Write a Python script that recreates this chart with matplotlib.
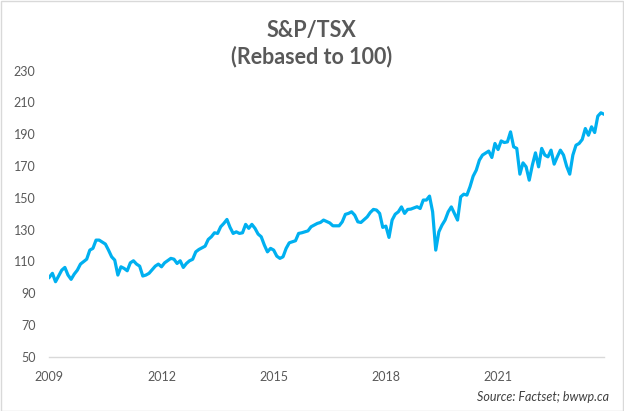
import matplotlib
matplotlib.use('Agg')
import matplotlib.pyplot as plt
from matplotlib.patches import Rectangle

# Months since Jan 2009 and rebased index value
month_idx = [0, 1, 2, 3, 4, 5, 6, 7, 8, 9, 10, 12, 13, 14, 15, 16, 18, 19, 20, 21,
             22, 23, 24, 25, 26, 27, 28, 29, 30, 31, 32, 34, 35, 36, 37, 39, 40, 41, 42, 43,
             44, 45, 46, 47, 48, 50, 51, 52, 53, 54, 55, 56, 57, 58, 59, 60, 61, 62, 63, 64,
             65, 66, 67, 68, 69, 70, 71, 72, 73, 74, 75, 76, 77, 79, 80, 81, 83, 84, 86, 87,
             88, 90, 91, 93, 94, 95, 96, 97, 98, 99, 100, 102, 103, 104, 105, 106, 107, 108, 109, 110,
             111, 112, 113, 114, 115, 116, 118, 119, 120, 121, 122, 123, 124, 125, 126, 127, 128, 129, 130, 131,
             132, 133, 134, 135, 136, 137, 138, 139, 141, 142, 143, 144, 145, 146, 147, 148, 149, 150, 151, 152,
             153, 154, 155, 156, 157, 158, 159, 160, 161, 162, 163, 164, 165, 166, 167, 168, 169, 170, 171, 172,
             173, 174, 175, 176, 177, 178]
tsx = [100, 102.5, 97.2, 100.8, 104.5, 106.2, 101.4, 98.7, 102, 104.5, 108.3, 111.4, 117.1, 118.2, 123.4, 123.4, 120.9, 117.1, 112.9, 110.8,
       101.4, 106.6, 105.6, 104.1, 109.1, 110.4, 108.3, 107, 100.8, 101.4, 102.5, 107, 108.3, 106.6, 109.1, 111.9, 111.4, 108.7, 110.4, 106.2,
       108.7, 110.4, 111.3, 116, 117.5, 119.6, 123.8, 125.5, 128, 127.6, 131.8, 133.9, 136.4, 131.4, 127.6, 128.6, 127.6, 128, 133.3, 130.8,
       133.3, 130.8, 127.2, 125.5, 120.3, 116, 118.2, 117.1, 113.3, 111.9, 112.9, 118.2, 121.7, 123, 127.6, 128, 129.2, 131.8, 133.9, 134.5,
       136, 134.2, 132.4, 132.4, 134.9, 139.6, 140.2, 141.2, 139.1, 134.9, 134.5, 138, 140.8, 142.7, 142.3, 140.2, 131.4, 132.2, 125.1, 136,
       139.7, 141.2, 144.3, 140.2, 142.7, 142.9, 144.4, 143.3, 148.6, 148.6, 151.1, 141.2, 117.1, 128.6, 132.8, 136, 141.2, 144.3, 140.2, 136,
       150.6, 152.3, 151.7, 157, 163.6, 167.4, 173.7, 176.9, 179.4, 175.4, 184.2, 180.4, 185.8, 184.8, 185.2, 191.5, 182.1, 181.1, 164.9, 172,
       169.5, 161.1, 170.6, 178.3, 169.5, 181.1, 176.9, 175.8, 180, 171.2, 175.8, 180, 176.9, 169.9, 164.9, 176.9, 183.1, 184.2, 186.7, 193.6,
       189.4, 194.7, 191.1, 201.4, 203.5, 202.6]

year_ticks = [0, 36, 72, 108, 144]
year_labels = ['2009', '2012', '2015', '2018', '2021']
y_ticks = list(range(50, 231, 20))

plt.rcParams['font.family'] = ['Lato', 'DejaVu Sans']
grey = '#595959'

fig = plt.figure(figsize=(6.24, 4.11), dpi=100)
ax = fig.add_axes([0.079, 0.132, 0.889, 0.696])

ax.plot(month_idx, tsx, color='#00B0F0', linewidth=2.3, solid_joinstyle='round')

ax.set_xlim(0, 178)
ax.set_ylim(50, 230)
ax.set_yticks(y_ticks)
ax.set_xticks(year_ticks)
ax.set_xticklabels(year_labels)
ax.tick_params(axis='both', length=0, colors=grey, labelsize=9)
ax.tick_params(axis='y', pad=10)
ax.tick_params(axis='x', pad=10)

for s in ['top', 'right', 'left']:
    ax.spines[s].set_visible(False)
ax.spines['bottom'].set_color('#D9D9D9')
ax.spines['bottom'].set_linewidth(1)

# titulo en dos lineas
fig.text(0.4995, 1 - 30 / 411, 'S&P/TSX', ha='center', va='center',
         fontsize=15.5, fontweight='bold', color=grey)
fig.text(0.4995, 1 - 56.7 / 411, '(Rebased to 100)', ha='center', va='center',
         fontsize=15.5, fontweight='bold', color=grey)

fig.text(609 / 624, 1 - 396.7 / 411, 'Source: Factset; bwwp.ca', ha='right', va='center',
         fontsize=9, style='italic', color='#404040')

# borde del grafico
fig.patches.append(Rectangle((0.001, 0.001), 0.997, 0.997, transform=fig.transFigure,
                             fill=False, edgecolor='#D9D9D9', linewidth=1))

fig.savefig('out.png', dpi=100)
